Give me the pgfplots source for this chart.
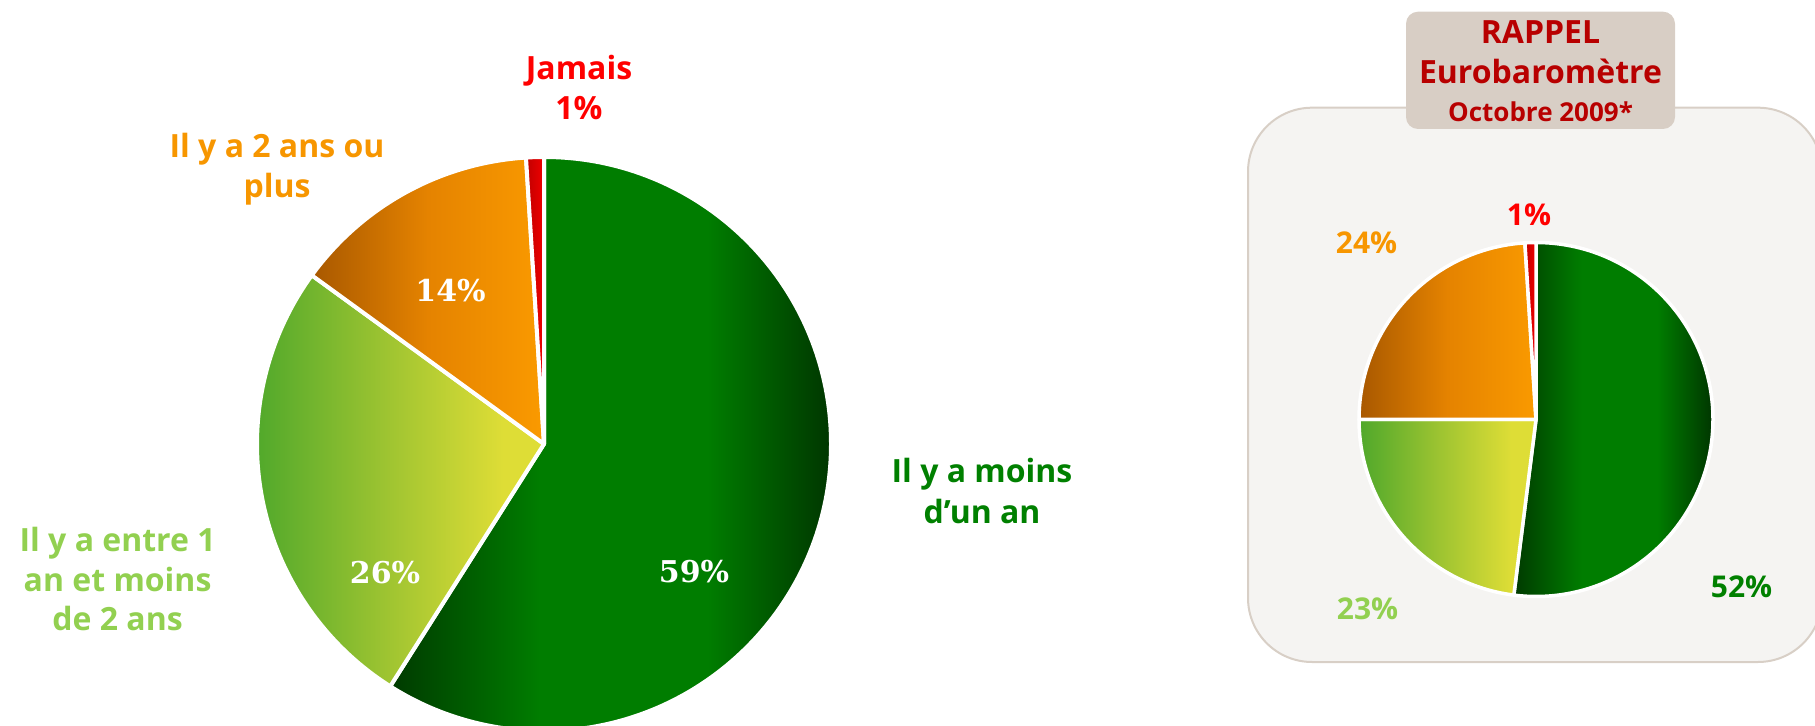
\documentclass[border=0pt]{standalone}
\usepackage{pgfplots}
\pgfplotsset{compat=1.18}
\usepackage{fontspec}
\setmainfont{Open Sans}
\newfontfamily\serifpct{DejaVu Serif}

\definecolor{G1}{HTML}{003A00}
\definecolor{G2}{HTML}{007D00}
\definecolor{G3}{HTML}{003600}
\definecolor{L1}{HTML}{4FA82B}
\definecolor{L2}{HTML}{9EC431}
\definecolor{L3}{HTML}{DEDD36}
\definecolor{O1}{HTML}{A85800}
\definecolor{O2}{HTML}{E58300}
\definecolor{O3}{HTML}{FA9A00}
\definecolor{R1}{HTML}{C00000}
\definecolor{R2}{HTML}{F00000}
\definecolor{labred}{HTML}{FF0000}
\definecolor{laborange}{HTML}{F79600}
\definecolor{lablight}{HTML}{92D050}
\definecolor{labgreen}{HTML}{008000}
\definecolor{titlered}{HTML}{B80000}
\definecolor{panelbg}{HTML}{F5F4F2}
\definecolor{panelborder}{HTML}{D8CFC6}
\definecolor{titlebg}{HTML}{D8CEC5}

\pgfdeclarehorizontalshading{greenpie}{100bp}{color(0bp)=(G1); color(25bp)=(G1); color(42bp)=(G2); color(61bp)=(G2); color(75bp)=(G3); color(100bp)=(G3)}
\pgfdeclarehorizontalshading{lightpie}{100bp}{color(0bp)=(L1); color(25bp)=(L1); color(48bp)=(L2); color(68bp)=(L3); color(75bp)=(L3); color(100bp)=(L3)}
\pgfdeclarehorizontalshading{orangepie}{100bp}{color(0bp)=(O1); color(25bp)=(O1); color(50bp)=(O2); color(75bp)=(O3); color(100bp)=(O3)}
\pgfdeclarehorizontalshading{redpie}{100bp}{color(0bp)=(R1); color(25bp)=(R1); color(75bp)=(R2); color(100bp)=(R2)}

% #1 cx, #2 cy (pixels), #3 radius (pt), #4 start (%), #5 value (%), #6 shading, #7 border width
\newcommand{\pieslice}[7]{%
  \shadedraw[shading=#6, draw=white, line width=#7, line join=round]
    (axis cs:#1,#2) -- ++({90-3.6*#4}:#3)
    arc[start angle={90-3.6*#4}, end angle={90-3.6*(#4+#5)}, radius=#3] -- cycle;
}

\begin{document}
\begin{tikzpicture}
\begin{axis}[x=0.5pt, y=0.5pt, xmin=0, xmax=1815, ymin=0, ymax=726,
  y dir=reverse, hide axis, scale only axis]
\path (axis cs:0,0) rectangle (axis cs:1815,726);

% right panel
\draw[fill=panelbg, draw=panelborder, line width=1pt, rounded corners=32pt]
  (axis cs:1248,107.7) rectangle (axis cs:1822,662);
\fill[titlebg, rounded corners=6pt] (axis cs:1406,11.7) rectangle (axis cs:1675,129);

% main pie: 59 / 26 / 14 / 1
\pieslice{544}{444}{143.5pt}{0}{59}{greenpie}{2pt}
\pieslice{544}{444}{143.5pt}{59}{26}{lightpie}{2pt}
\pieslice{544}{444}{143.5pt}{85}{14}{orangepie}{2pt}
\pieslice{544}{444}{143.5pt}{99}{1}{redpie}{2pt}

% small pie: 52 / 23 / 24 / 1
\pieslice{1536}{419.5}{88.5pt}{0}{52}{greenpie}{1.75pt}
\pieslice{1536}{419.5}{88.5pt}{52}{23}{lightpie}{1.75pt}
\pieslice{1536}{419.5}{88.5pt}{75}{24}{orangepie}{1.75pt}
\pieslice{1536}{419.5}{88.5pt}{99}{1}{redpie}{1.75pt}

% labels main pie
\begin{scope}[every node/.style={anchor=base, font=\bfseries\fontsize{16}{19}\selectfont, inner sep=0pt}]
\node[text=labred] at (axis cs:579,79.3) {Jamais};
\node[text=labred] at (axis cs:579,120) {1\%};
\node[text=laborange] at (axis cs:277,158) {Il y a 2 ans ou};
\node[text=laborange] at (axis cs:277,198) {plus};
\node[text=lablight] at (axis cs:117.6,551.8) {Il y a entre 1};
\node[text=lablight] at (axis cs:117.6,591.7) {an et moins};
\node[text=lablight] at (axis cs:117.6,630.6) {de 2 ans};
\node[text=labgreen] at (axis cs:982,482.7) {Il y a moins};
\node[text=labgreen] at (axis cs:982,523.3) {d’un an};
% title
\node[text=titlered] at (axis cs:1540.5,43.3) {RAPPEL};
\node[text=titlered] at (axis cs:1540.5,83.3) {Eurobaromètre};
\node[text=titlered, font=\bfseries\fontsize{13}{15}\selectfont] at (axis cs:1540.5,121.7) {Octobre 2009*};
% small pie percents
\node[text=labgreen, font=\bfseries\fontsize{15}{18}\selectfont] at (axis cs:1741.5,597) {52\%};
\node[text=lablight, font=\bfseries\fontsize{15}{18}\selectfont] at (axis cs:1367.5,619) {23\%};
\node[text=laborange, font=\bfseries\fontsize{15}{18}\selectfont] at (axis cs:1366.5,254) {24\%};
\node[text=labred, font=\bfseries\fontsize{15}{18}\selectfont] at (axis cs:1529,226) {1\%};
% inside percents
\node[text=white, font=\serifpct\bfseries\fontsize{15}{18}\selectfont] at (axis cs:694,583) {59\%};
\node[text=white, font=\serifpct\bfseries\fontsize{15}{18}\selectfont] at (axis cs:385,584) {26\%};
\node[text=white, font=\serifpct\bfseries\fontsize{15}{18}\selectfont] at (axis cs:450.5,302) {14\%};
\end{scope}
\end{axis}
\end{tikzpicture}
\end{document}
